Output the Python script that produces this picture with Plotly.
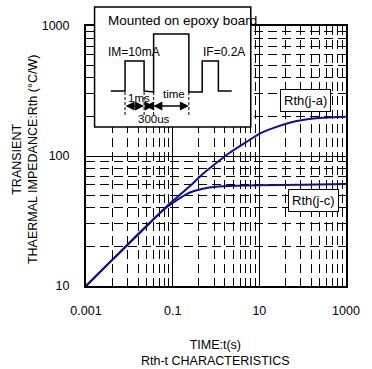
import plotly.graph_objects as go

# ---- data ----
t_ja = [0.001, 0.003, 0.01, 0.03, 0.06, 0.1, 0.2, 0.3, 0.5, 1, 2, 5, 10, 20, 50, 100, 200, 500, 1000]
rth_ja = [10, 14.4, 21.4, 30.7, 38.5, 45, 55, 62, 73, 88, 105, 128, 148, 163, 180, 189, 195, 199, 200]
t_jc = [0.001, 0.003, 0.01, 0.03, 0.06, 0.1, 0.2, 0.3, 0.5, 1, 3, 10, 100, 1000]
rth_jc = [10, 14.4, 21.4, 30.7, 38.2, 43.5, 50.5, 53.5, 56, 58, 59, 59.5, 60, 61]
x_ticks = [0.001, 0.1, 10, 1000]
x_tick_text = ["0.001", "0.1", "10", "1000"]
y_ticks = [10, 100, 1000]
y_tick_text = ["10", "100", "1000"]
y_minor = [m * d for d in (10, 100) for m in range(2, 10)]
x_minor = [m * d for d in (1, 10, 100) for m in range(2, 10)]  # chart's minor grid: each 2-decade span drawn like one decade

W, H = 372, 369
L, R, T, B = 86, 359, 26, 286
def px(x):
    return (x - L) / (R - L)
def py(y):
    return (B - y) / (B - T)

CURVE = "#10108c"
FONT = "Liberation Sans, Arial, sans-serif"

fig = go.Figure()
fig.add_trace(go.Scatter(x=[1, 1000], y=[10, 10], xaxis="x2", yaxis="y", mode="lines",
                         line=dict(width=0, color="rgba(0,0,0,0)"), hoverinfo="skip", showlegend=False))
fig.add_trace(go.Scatter(x=t_ja, y=rth_ja, mode="lines", line=dict(color=CURVE, width=2, shape="spline", smoothing=0.6),
                         showlegend=False, name="Rth(j-a)"))
fig.add_trace(go.Scatter(x=t_jc, y=rth_jc, mode="lines", line=dict(color=CURVE, width=2, shape="spline", smoothing=0.6),
                         showlegend=False, name="Rth(j-c)"))

fig.update_layout(
    width=W, height=H,
    margin=dict(l=L, r=W - R, t=T, b=H - B),
    paper_bgcolor="white", plot_bgcolor="white",
    font=dict(family=FONT, size=12.5, color="black"),
    xaxis=dict(type="log", range=[-3, 3], tickvals=x_ticks, ticktext=x_tick_text,
               showgrid=True, gridcolor="black", gridwidth=1,
               showline=True, linecolor="black", linewidth=2, mirror=True,
               ticks="", ticklabelstandoff=12, zeroline=False, ticklabeloverflow="allow"),
    xaxis2=dict(type="log", range=[0, 3], overlaying="x", anchor="y", side="bottom",
                tickvals=x_minor, showticklabels=False, ticks="",
                showgrid=True, gridcolor="black", gridwidth=1, griddash="9px,5px",
                showline=False, zeroline=False),
    yaxis=dict(type="log", range=[1, 3], tickvals=y_ticks, ticktext=y_tick_text,
               showgrid=True, gridcolor="black", gridwidth=1,
               showline=True, linecolor="black", linewidth=2, mirror=True,
               ticks="", ticklabelstandoff=12, zeroline=False,
               minor=dict(tickvals=y_minor, showgrid=True, gridcolor="black", gridwidth=1, griddash="9px,5px")),
)

shapes = []
annotations = []

# inset box
shapes.append(dict(type="rect", xref="paper", yref="paper", x0=px(95), x1=px(259), y0=py(127), y1=py(7),
                   line=dict(color="black", width=1.5), fillcolor="white", layer="above"))
# pulse waveform
wave = [(112, 91), (127, 91), (127, 61), (147, 61), (147, 91), (157, 92), (157, 34), (194, 34), (194, 92),
        (208, 92), (208, 61), (225, 61), (225, 91), (239, 91)]
path = "M " + " L ".join(f"{px(a):.5f},{py(b):.5f}" for a, b in wave)
shapes.append(dict(type="path", xref="paper", yref="paper", path=path, line=dict(color="black", width=1.5), layer="above"))
# dashed markers
for xm in (127, 147, 157, 194):
    shapes.append(dict(type="line", xref="paper", yref="paper", x0=px(xm), x1=px(xm), y0=py(92), y1=py(116),
                       line=dict(color="black", width=1, dash="3px,2px"), layer="above"))
# arrows (double-headed)
for a, b in ((127, 147), (147, 157), (157, 194)):
    annotations.append(dict(xref="paper", yref="paper", x=px(b), y=py(106), ax=a - b, ay=0, axref="pixel", ayref="pixel",
                            text="", showarrow=True, arrowhead=2, startarrowhead=2, arrowside="end+start",
                            arrowsize=1.2, startarrowsize=1.2, arrowwidth=1.5, arrowcolor="black"))

def txt(s, x, y, size=12, xanchor="center", yanchor="middle", **kw):
    annotations.append(dict(xref="paper", yref="paper", x=px(x), y=py(y), text=s, showarrow=False,
                            xanchor=xanchor, yanchor=yanchor, font=dict(size=size, family=FONT, color="black"), **kw))

txt("Mounted on epoxy board", 107, 20, size=13.5, xanchor="left")
txt("IM=10mA", 107, 52, size=12, xanchor="left")
txt("IF=0.2A", 207, 52, size=12, xanchor="left")
txt("1ms", 142, 98, size=11.5)
txt("time", 178, 94, size=11.5)
txt("300us", 157, 119, size=11.5)

# curve labels
txt("Rth(j-a)", 316, 100, size=13, bordercolor="black", borderwidth=1, borderpad=3, bgcolor="white")
txt("Rth(j-c)", 325, 200, size=13, bordercolor="black", borderwidth=1, borderpad=3, bgcolor="white")

# axis titles
txt("TRANSIENT<br>THAERMAL IMPEDANCE:Rth (°C/W)", 22, 160, size=12.5, textangle=-90)
txt("TIME:t(s)<br>Rth-t CHARACTERISTICS", 222, 353, size=12.5)

fig.update_layout(shapes=shapes, annotations=annotations)
fig.write_html("out.html")
